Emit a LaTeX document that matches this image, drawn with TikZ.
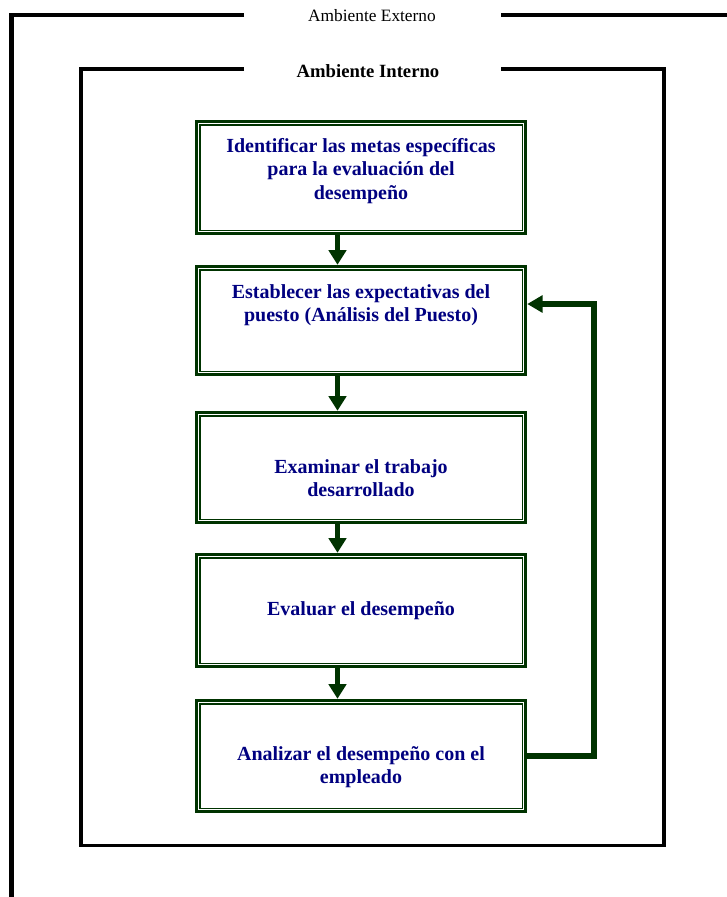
\documentclass[tikz,border=0pt]{standalone}
\usepackage{fontspec}
\setmainfont{Liberation Serif}
\usepackage{tikz}
\usetikzlibrary{arrows.meta}
\definecolor{boxgreen}{RGB}{0,51,0}
\definecolor{textblue}{RGB}{0,0,128}
\newcommand{\boxfont}{\fontsize{15}{17.5}\selectfont\bfseries}

\tikzset{
    stepbox/.style={draw=boxgreen, line width=2.6pt, minimum width=246.75pt, inner sep=0pt},
    stepinner/.style={draw=boxgreen, line width=1.4pt},
    steptext/.style={text=textblue, font=\boxfont, align=center},
    downarrow/.style={boxgreen, line width=4pt, -{Triangle[width=13pt,length=11pt]}},
    backarrow/.style={boxgreen, line width=4pt, line join=miter, -{Triangle[width=12.5pt,length=11.5pt]}},
    frameline/.style={line join=miter, line cap=butt}
}

\begin{document}
\begin{tikzpicture}[x=0.75pt, y=-0.75pt]
    \useasboundingbox (0,0) rectangle (726,897);
    % outer frame
    \draw[frameline, line width=3.6pt] (244,15) -- (11.5,15) -- (11.5,900);
    \draw[frameline, line width=3.6pt] (501,15) -- (730,15);
    \node[font=\fontsize{13}{15}\selectfont] (ext) at (372,16) {Ambiente Externo};
    % inner frame
    \draw[frameline, line width=2.7pt] (244,69) -- (81,69) -- (81,845.5) -- (664,845.5) -- (664,69) -- (501,69);
    \node[font=\fontsize{14}{16}\selectfont\bfseries] (int) at (368,71) {Ambiente Interno};

    \node[stepbox, minimum height=84pt] (b1) at (361,177.5) {};
    \node[stepbox, minimum height=81pt] (b2) at (361,320.5) {};
    \node[stepbox, minimum height=82.5pt] (b3) at (361,467.5) {};
    \node[stepbox, minimum height=84pt] (b4) at (361,610.5) {};
    \node[stepbox, minimum height=83.25pt] (b5) at (361,756) {};
    \foreach \b in {b1,b2,b3,b4,b5}
        \draw[stepinner] ([shift={(4.8,4.8)}]\b.north west) rectangle ([shift={(-4.8,-4.8)}]\b.south east);

    \node[steptext] (t1) at (361,171) {Identificar las metas específicas\\para la evaluación del\\desempeño};
    \node[steptext] (t2) at (361,305) {Establecer las expectativas del\\puesto (Análisis del Puesto)};
    \node[steptext] (t3) at (361,478) {Examinar el trabajo\\desarrollado};
    \node[steptext] (t4) at (361,611) {Evaluar el desempeño};
    \node[steptext] (t5) at (361,767) {Analizar el desempeño con el\\empleado};

    \coordinate (ax) at (337.5,0);
    \draw[downarrow] (b1.south -| ax) -- (b2.north -| ax);
    \draw[downarrow] (b2.south -| ax) -- (b3.north -| ax);
    \draw[downarrow] (b3.south -| ax) -- (b4.north -| ax);
    \draw[downarrow] (b4.south -| ax) -- (b5.north -| ax);

    % feedback loop back to the job expectations
    \coordinate (fb) at (594,304);
    \draw[backarrow] (b5.east) -| (fb) -- (b2.east |- fb);
\end{tikzpicture}
\end{document}
